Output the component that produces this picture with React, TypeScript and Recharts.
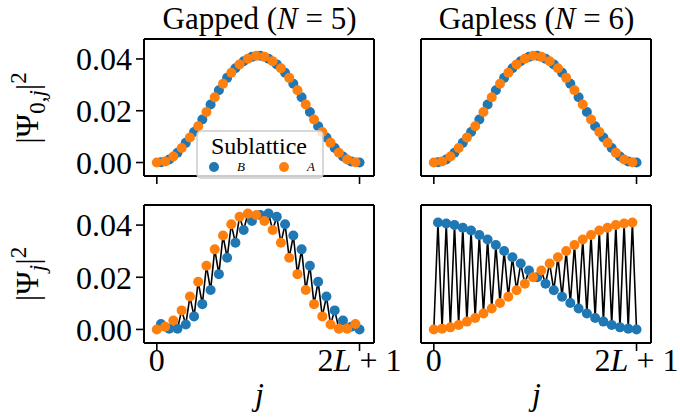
import React from 'react';
import { ComposedChart, Line, XAxis, YAxis } from 'recharts';

const FONT = "'Liberation Serif', 'Times New Roman', serif";
const BLUE = '#1f77b4';
const ORANGE = '#ff7f0e';

// site index j = 0 .. 2L+1 (L = 24)
const sites = [
  0, 1, 2, 3, 4, 5, 6, 7, 8, 9, 10, 11, 12, 13, 14, 15, 16, 17, 18, 19, 20, 21, 22, 23, 24,
  25, 26, 27, 28, 29, 30, 31, 32, 33, 34, 35, 36, 37, 38, 39, 40, 41, 42, 43, 44, 45, 46, 47, 48, 49,
];
const xTicks = [0, 49];
const yTicks = [0, 0.02, 0.04];
const panelTitles = ['Gapped', 'Gapless'];
const panelN = ['5', '6'];
const legendTitle = 'Sublattice';
const legendLabels = ['B', 'A'];

// |Psi_{0,j}|^2 : A on even j, B on odd j
const gappedGroundA = [0.0, 0.0004, 0.0023, 0.0056, 0.0097, 0.014, 0.0195, 0.0252, 0.0304, 0.0347, 0.0379, 0.0401, 0.0412, 0.0408, 0.0391, 0.0364, 0.0327, 0.0279, 0.0224, 0.0166, 0.0118, 0.0076, 0.0038, 0.0012, 0.0001];
const gappedGroundB = [0.0001, 0.0012, 0.0038, 0.0076, 0.0118, 0.0166, 0.0224, 0.0279, 0.0327, 0.0364, 0.0391, 0.0408, 0.0412, 0.0401, 0.0379, 0.0347, 0.0304, 0.0252, 0.0195, 0.014, 0.0097, 0.0056, 0.0023, 0.0004, 0.0];
const gaplessGroundA = [0.0, 0.0004, 0.0023, 0.0056, 0.0097, 0.014, 0.0195, 0.0252, 0.0304, 0.0347, 0.0379, 0.0401, 0.0412, 0.0408, 0.0391, 0.0364, 0.0327, 0.0279, 0.0224, 0.0166, 0.0118, 0.0076, 0.0038, 0.0012, 0.0001];
const gaplessGroundB = [0.0001, 0.0012, 0.0038, 0.0076, 0.0118, 0.0166, 0.0224, 0.0279, 0.0327, 0.0364, 0.0391, 0.0408, 0.0412, 0.0401, 0.0379, 0.0347, 0.0304, 0.0252, 0.0195, 0.014, 0.0097, 0.0056, 0.0023, 0.0004, 0.0];

// |Psi_j|^2
const gappedA = [0.0, 0.001, 0.0034, 0.0073, 0.0126, 0.0183, 0.0244, 0.0307, 0.036, 0.0403, 0.0432, 0.0444, 0.0439, 0.0416, 0.0381, 0.0332, 0.0275, 0.0212, 0.0151, 0.0097, 0.005, 0.0019, 0.0003, 0.0003, 0.0021];
const gappedB = [0.0021, 0.0003, 0.0003, 0.0019, 0.005, 0.0097, 0.0151, 0.0212, 0.0275, 0.0332, 0.0381, 0.0416, 0.0439, 0.0444, 0.0432, 0.0403, 0.036, 0.0307, 0.0244, 0.0183, 0.0126, 0.0073, 0.0034, 0.001, 0.0];
const gaplessA = [0.0, 0.0003, 0.0008, 0.0017, 0.003, 0.0044, 0.0061, 0.008, 0.0101, 0.0125, 0.015, 0.0175, 0.02, 0.0226, 0.0253, 0.0277, 0.0301, 0.0324, 0.0345, 0.0362, 0.0379, 0.039, 0.04, 0.0406, 0.041];
const gaplessB = [0.041, 0.0406, 0.04, 0.039, 0.0379, 0.0362, 0.0345, 0.0324, 0.0301, 0.0277, 0.0253, 0.0226, 0.02, 0.0175, 0.015, 0.0125, 0.0101, 0.008, 0.0061, 0.0044, 0.003, 0.0017, 0.0008, 0.0003, 0.0];

type Row = { j: number; psi: number; A: number | null; B: number | null };

function buildRows(a: number[], b: number[]): Row[] {
  return sites.map((j) => {
    const even = j % 2 === 0;
    const v = even ? a[j / 2] : b[(j - 1) / 2];
    return { j, psi: v, A: even ? v : null, B: even ? null : v };
  });
}

const X_DOMAIN: [number, number] = [-3.1, 52.5];
const Y_DOMAIN: [number, number] = [-0.0052, 0.0477];
const PLOT_W = 231;
const SPINE = { stroke: '#000', strokeWidth: 2 };
const TICKLINE = { stroke: '#000', strokeWidth: 1.6 };
const FS = 32;

const XTick = (props: any) => {
  const { x, y, payload } = props;
  const isEnd = payload.value === 49;
  return (
    <text x={x} y={y} dy={18} textAnchor="middle" fontSize={FS} fontFamily={FONT} fill="#000">
      {isEnd ? (
        <>
          <tspan>2</tspan>
          <tspan fontStyle="italic">L</tspan>
          <tspan>{' + 1'}</tspan>
        </>
      ) : (
        '0'
      )}
    </text>
  );
};

const EmptyTick = () => <g />;

type PanelProps = {
  data: Row[];
  left: number;
  top: number;
  plotH: number;
  showYLabels: boolean;
  showXLabels: boolean;
};

function Panel({ data, left, top, plotH, showYLabels, showXLabels }: PanelProps) {
  const yW = showYLabels ? 90 : 10;
  const mR = showXLabels ? 45 : 5;
  const W = 5 + yW + PLOT_W + mR;
  const H = 5 + plotH + 50 + 5;
  return (
    <div style={{ position: 'absolute', left: left - 5 - yW, top: top - 5 }}>
      <ComposedChart width={W} height={H} data={data} margin={{ top: 5, right: mR, bottom: 5, left: 5 }}>
        <XAxis
          xAxisId="b"
          dataKey="j"
          type="number"
          domain={X_DOMAIN}
          allowDataOverflow
          ticks={xTicks}
          interval={0}
          height={50}
          tickSize={8}
          axisLine={SPINE}
          tickLine={TICKLINE}
          tick={showXLabels ? XTick : EmptyTick}
        />
        <XAxis
          xAxisId="t"
          orientation="top"
          dataKey="j"
          type="number"
          domain={X_DOMAIN}
          allowDataOverflow
          height={1}
          tick={false}
          tickLine={false}
          axisLine={SPINE}
        />
        <YAxis
          yAxisId="l"
          type="number"
          domain={Y_DOMAIN}
          allowDataOverflow
          ticks={yTicks}
          interval={0}
          width={yW}
          tickSize={showYLabels ? 8 : 0}
          tickMargin={4}
          axisLine={SPINE}
          tickLine={showYLabels ? TICKLINE : false}
          tick={showYLabels ? { fontSize: FS, fill: '#000', fontFamily: FONT } : false}
          tickFormatter={(v: number) => v.toFixed(2)}
        />
        <YAxis
          yAxisId="r"
          orientation="right"
          type="number"
          domain={Y_DOMAIN}
          allowDataOverflow
          width={1}
          tick={false}
          tickLine={false}
          axisLine={SPINE}
        />
        <Line
          xAxisId="t"
          yAxisId="r"
          type="linear"
          dataKey="psi"
          stroke="none"
          dot={false}
          activeDot={false}
          isAnimationActive={false}
        />
        <Line
          xAxisId="b"
          yAxisId="l"
          type="linear"
          dataKey="psi"
          stroke="#000"
          strokeWidth={1.6}
          dot={false}
          activeDot={false}
          isAnimationActive={false}
        />
        <Line
          xAxisId="b"
          yAxisId="l"
          type="linear"
          dataKey="B"
          stroke="none"
          dot={{ r: 5, fill: BLUE, stroke: 'none' }}
          activeDot={false}
          isAnimationActive={false}
        />
        <Line
          xAxisId="b"
          yAxisId="l"
          type="linear"
          dataKey="A"
          stroke="none"
          dot={{ r: 5, fill: ORANGE, stroke: 'none' }}
          activeDot={false}
          isAnimationActive={false}
        />
      </ComposedChart>
    </div>
  );
}

export default function App() {
  const tl = buildRows(gappedGroundA, gappedGroundB);
  const tr = buildRows(gaplessGroundA, gaplessGroundB);
  const bl = buildRows(gappedA, gappedB);
  const br = buildRows(gaplessA, gaplessB);
  const txt = { fontFamily: FONT, fill: '#000' } as const;
  return (
    <div style={{ position: 'absolute', left: 0, top: 0, width: 680, height: 418, background: '#fff', overflow: 'hidden' }}>
      <Panel data={tl} left={144} top={38} plotH={138} showYLabels showXLabels={false} />
      <Panel data={tr} left={421} top={38} plotH={138} showYLabels={false} showXLabels={false} />
      <Panel data={bl} left={144} top={204} plotH={139} showYLabels showXLabels />
      <Panel data={br} left={421} top={204} plotH={139} showYLabels={false} showXLabels />
      <svg width={680} height={418} style={{ position: 'absolute', left: 0, top: 0, pointerEvents: 'none' }}>
        <text x={259.5} y={29} textAnchor="middle" fontSize={31} {...txt}>
          {panelTitles[0] + ' ('}
          <tspan fontStyle="italic">N</tspan>
          {' = ' + panelN[0] + ')'}
        </text>
        <text x={536.5} y={29} textAnchor="middle" fontSize={31} {...txt}>
          {panelTitles[1] + ' ('}
          <tspan fontStyle="italic">N</tspan>
          {' = ' + panelN[1] + ')'}
        </text>
        <text transform="translate(38,108) rotate(-90)" textAnchor="middle" fontSize={FS} {...txt}>
          <tspan>|Ψ</tspan>
          <tspan fontSize={23} dy={7}>0,</tspan>
          <tspan fontSize={23} fontStyle="italic">j</tspan>
          <tspan fontSize={FS} dy={-7}>|</tspan>
          <tspan fontSize={23} dy={-12}>2</tspan>
        </text>
        <text transform="translate(38,274) rotate(-90)" textAnchor="middle" fontSize={FS} {...txt}>
          <tspan>|Ψ</tspan>
          <tspan fontSize={23} dy={7} fontStyle="italic">j</tspan>
          <tspan fontSize={FS} dy={-7}>|</tspan>
          <tspan fontSize={23} dy={-12}>2</tspan>
        </text>
        <text x={259.5} y={405} textAnchor="middle" fontSize={FS} fontStyle="italic" {...txt}>j</text>
        <text x={536.5} y={405} textAnchor="middle" fontSize={FS} fontStyle="italic" {...txt}>j</text>
        <rect x={197} y={131} width={126} height={47} rx={4} fill="#fff" fillOpacity={0.8} stroke="#cccccc" strokeWidth={1.5} />
        <text x={259} y={154} textAnchor="middle" fontSize={24} {...txt}>{legendTitle}</text>
        <circle cx={214} cy={167} r={5} fill={BLUE} />
        <text x={241} y={171} textAnchor="middle" fontSize={13} fontStyle="italic" {...txt}>{legendLabels[0]}</text>
        <circle cx={284} cy={167} r={5} fill={ORANGE} />
        <text x={311} y={171} textAnchor="middle" fontSize={13} fontStyle="italic" {...txt}>{legendLabels[1]}</text>
      </svg>
    </div>
  );
}
